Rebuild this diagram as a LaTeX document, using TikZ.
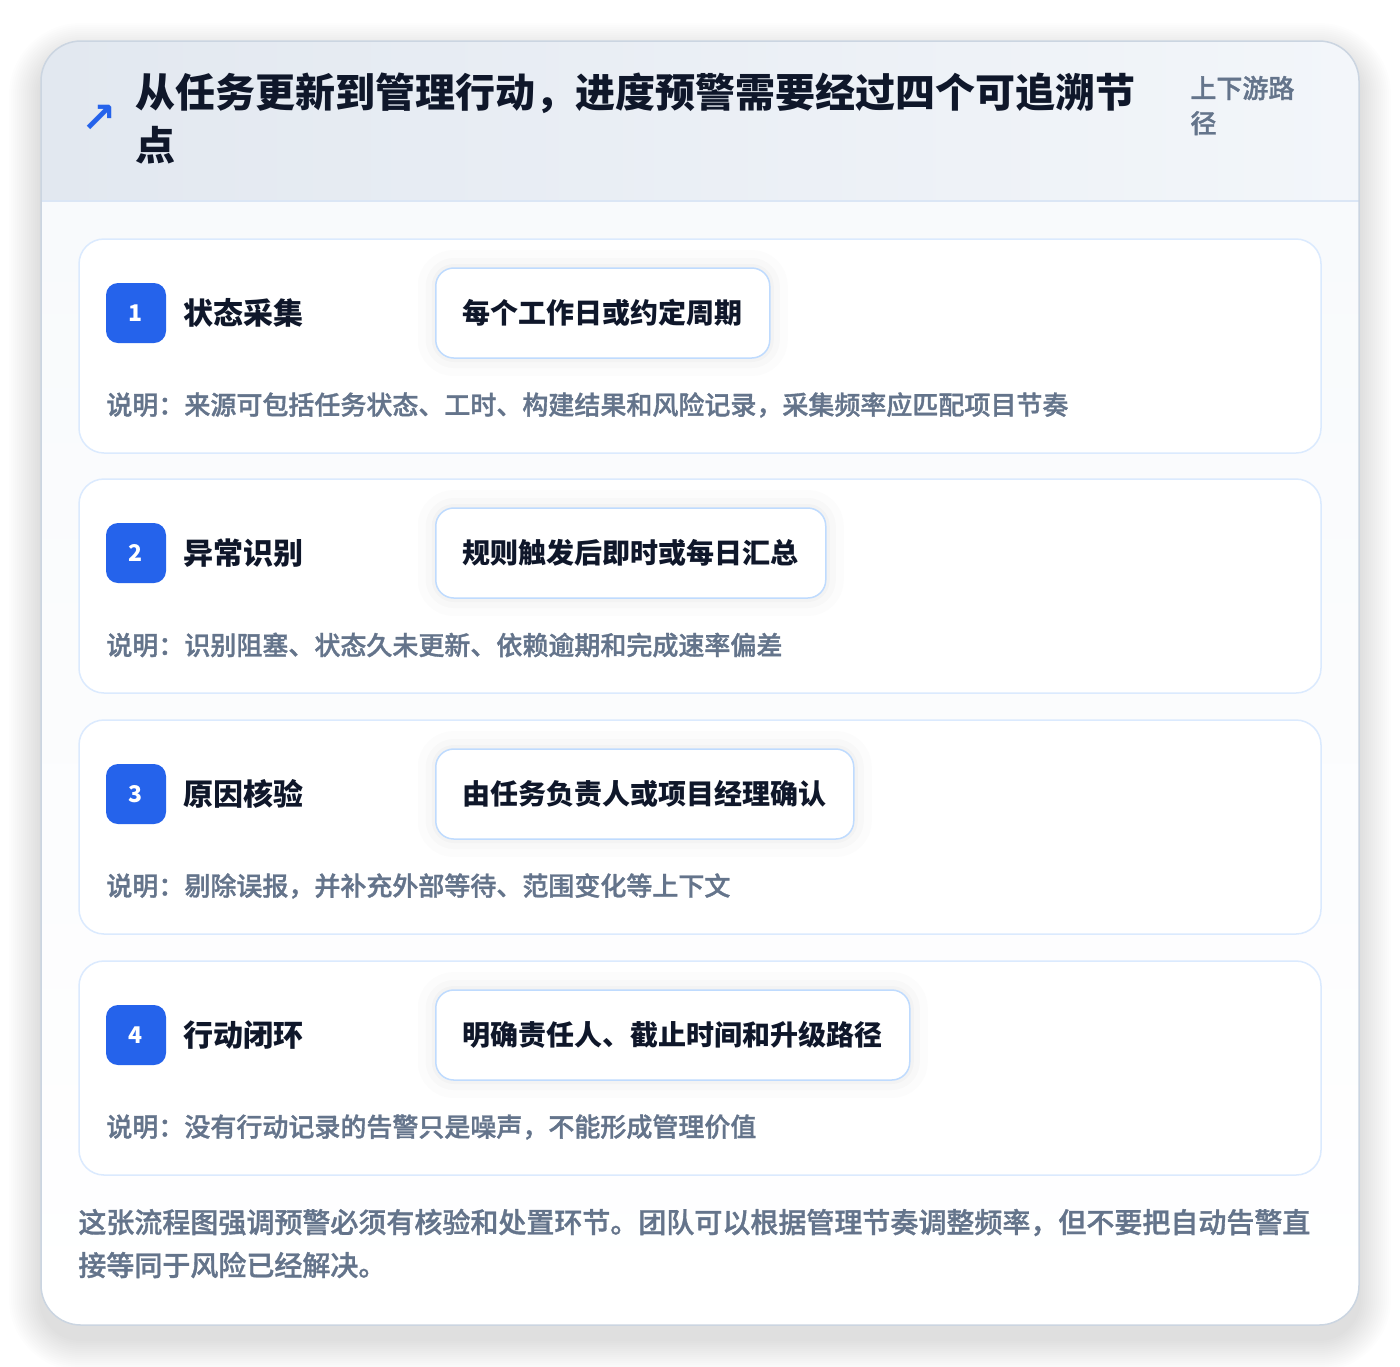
\documentclass[tikz,border=0pt]{standalone}
\usepackage{fontspec}
\setmainfont{Noto Sans CJK SC}
\newfontfamily\symbolfont{DejaVu Sans}
\IfFontExistsTF{Noto Sans CJK SC Medium}
  {\newfontfamily\mediumfont{Noto Sans CJK SC Medium}[FakeBold=1.2]}
  {\newcommand\mediumfont{\bfseries}}
\usepackage{xcolor}
\usetikzlibrary{positioning}

\definecolor{titleink}{HTML}{0F172A}
\definecolor{mutedink}{HTML}{64748B}
\definecolor{badgeblue}{HTML}{2563EB}
\definecolor{cardline}{HTML}{DBEAFE}
\definecolor{tagline}{HTML}{BFDBFE}
\definecolor{outerline}{HTML}{CBD5E1}
\definecolor{headleft}{HTML}{E2E8F0}
\definecolor{headright}{HTML}{F3F6FA}
\definecolor{sepline}{HTML}{DBE6F5}
\definecolor{bodytop}{HTML}{F8FAFC}

\tikzset{
  stepcard/.style={draw=cardline, line width=0.75pt, fill=white, rounded corners=12.5pt,
    minimum width=621pt, minimum height=107pt},
  badge/.style={fill=badgeblue, text=white, rounded corners=6pt, minimum size=30pt,
    inner sep=0pt, font=\fontsize{11.5}{11.5}\selectfont\bfseries},
  steptitle/.style={anchor=west, inner sep=0pt, text=titleink,
    font=\fontsize{15}{15}\selectfont\bfseries},
  tagbox/.style={anchor=west, draw=tagline, line width=0.75pt, fill=white, rounded corners=9pt,
    minimum height=45pt, inner xsep=13.5pt, text=titleink,
    font=\fontsize{14}{14}\selectfont\bfseries,
    preaction={draw=black, draw opacity=0.012, line width=18pt},
    preaction={draw=black, draw opacity=0.015, line width=10pt},
    preaction={draw=black, draw opacity=0.02, line width=4pt}},
  steptext/.style={anchor=west, inner sep=0pt, text=mutedink,
    font=\fontsize{13}{13}\selectfont\mediumfont},
}

\begin{document}
\begin{tikzpicture}[x=0.5pt,y=-0.5pt]
  \useasboundingbox[fill=white] (0,0) rectangle (1400,1366);

  % soft shadow of the outer card
  \foreach \k in {1,...,16} {
    \pgfmathsetmacro\r{20+\k}
    \fill[black, opacity=0.006, rounded corners=\r pt]
      (41-2*\k,41-2*\k+14) rectangle (1359+2*\k,1325+2*\k+14);
  }

  % outer card
  \begin{scope}
    \clip[rounded corners=20pt] (41,41) rectangle (1359,1325);
    \shade[top color=bodytop, bottom color=white] (41,201) rectangle (1359,1325);
    \shade[left color=headleft, right color=headright] (41,41) rectangle (1359,201);
    \draw[sepline, line width=0.75pt] (41,201) -- (1359,201);
  \end{scope}
  \draw[outerline, line width=0.75pt, rounded corners=20pt] (41,41) rectangle (1359,1325);

  % header
  \node[text=badgeblue, inner sep=0pt, font=\symbolfont\fontsize{21}{21}\selectfont\bfseries]
    (icon) at (99,119) {↗};
  \node[anchor=west, inner sep=0pt, align=left, text=titleink,
    font=\fontsize{20}{26.5}\selectfont\bfseries] (title) at (135,118.5)
    {从任务更新到管理行动，进度预警需要经过四个可追溯节\\点};
  \node[anchor=west, inner sep=0pt, align=left, text=mutedink,
    font=\fontsize{13}{17.5}\selectfont\mediumfont] (scope) at (1190,105.5)
    {上下游路\\径};

  % steps
  \foreach \i/\y/\name/\tag/\desc in {
      1/239/{状态采集}/{每个工作日或约定周期}/{说明：来源可包括任务状态、工时、构建结果和风险记录，采集频率应匹配项目节奏},
      2/479/{异常识别}/{规则触发后即时或每日汇总}/{说明：识别阻塞、状态久未更新、依赖逾期和完成速率偏差},
      3/720/{原因核验}/{由任务负责人或项目经理确认}/{说明：剔除误报，并补充外部等待、范围变化等上下文},
      4/961/{行动闭环}/{明确责任人、截止时间和升级路径}/{说明：没有行动记录的告警只是噪声，不能形成管理价值}} {
    \node[stepcard] (card\i) at (700,\y+107) {};
    \node[badge] (num\i) at (136,\y+74) {\i};
    \node[steptitle] (name\i) [right=8.5pt of num\i] {\name};
    \node[tagbox] (tag\i) at (435,\y+74) {\tag};
    \node[steptext] (desc\i) at (106,\y+166) {\desc};
  }

  % footer note
  \node[anchor=west, inner sep=0pt, align=left, text=mutedink,
    font=\fontsize{14}{21.5}\selectfont\mediumfont] (note) at (78,1243.5)
    {这张流程图强调预警必须有核验和处置环节。团队可以根据管理节奏调整频率，但不要把自动告警直\\接等同于风险已经解决。};
\end{tikzpicture}
\end{document}
